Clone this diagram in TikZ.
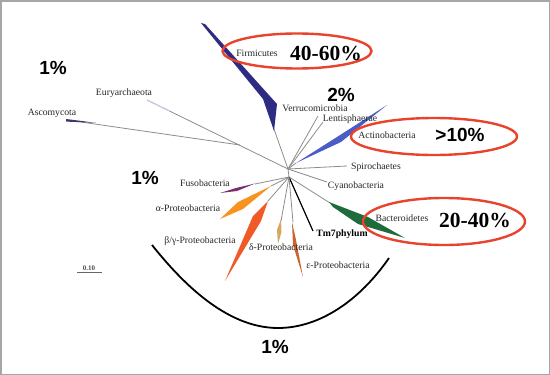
\documentclass[tikz,border=0pt]{standalone}
\usepackage{fontspec}
\setmainfont{Liberation Serif}
\newfontfamily\arialfont{Liberation Sans}
\begin{document}
\begin{tikzpicture}[x=1pt,y=-1pt,
  br/.style={draw=black!45,line width=0.8pt},
  lbl/.style={text=black!85,inner sep=0pt,font=\fontsize{9.7}{11}\selectfont},
  pct/.style={inner sep=0pt,font=\arialfont\bfseries\fontsize{19}{21}\selectfont},
  bigpct/.style={inner sep=0pt,font=\bfseries\fontsize{21.5}{24}\selectfont},
  ring/.style={line width=2.4pt},
  wedge/.style={draw=none}]
\useasboundingbox (0,0) rectangle (550,375);
\draw[black!35,line width=1.5pt] (0.75,0.75) rectangle (549.25,374.25);
\definecolor{firm}{HTML}{2E2C82}
\definecolor{actino}{HTML}{4B5CC6}
\definecolor{bact}{HTML}{1E6B3C}
\definecolor{betag}{HTML}{F05A28}
\definecolor{alpha}{HTML}{F7931E}
\definecolor{fuso}{HTML}{7B2D6E}
\definecolor{delta}{HTML}{D4A860}
\definecolor{eps}{HTML}{C9642E}
\definecolor{asco}{HTML}{3A3A6A}
\definecolor{ringred}{HTML}{E8432C}
% hubs
\coordinate (hub) at (288,169);
\coordinate (hubl) at (289,177);
\coordinate (junc) at (240,145);
\coordinate (eury) at (147,100);
\coordinate (asco) at (67,120);
\coordinate (firmb) at (274,129);
\coordinate (verr) at (318,116);
\coordinate (lent) at (323,122);
\coordinate (actb) at (296,163);
\coordinate (spir) at (347,166);
\coordinate (cyan) at (327,182);
\coordinate (bacb) at (330,203);
\coordinate (tm7) at (313,231);
\coordinate (epsb) at (293,222);
\coordinate (delb) at (281,221);
\coordinate (betb) at (268,201);
\coordinate (alpb) at (271,186);
\coordinate (fusb) at (255,184);
% branches
\draw[br] (hub) -- (hubl);
\draw[br] (hub) -- (eury);
\draw[br] (junc) -- (asco);
\draw[draw=black!25!blue!20,line width=0.9pt] (eury) -- (170,111);
\fill[asco] (66,119) -- (96,122.8) -- (66,121.6) -- cycle;
\draw[br] (hub) -- (firmb);
\fill[firm] (201,23) -- (205,24) -- (277,104) -- (274,131) -- (263,99) -- cycle;
\draw[br] (hub) -- (verr);
\draw[br] (hub) -- (lent);
\draw[br] (hub) -- (actb);
\fill[actino] (296,163) -- (337,137) -- (387,105) -- (341,142) -- cycle;
\draw[br] (hub) -- (spir);
\draw[br] (hub) -- (cyan);
\draw[br] (hubl) -- (bacb);
\fill[bact] (329,202) -- (368,217) -- (405,238) -- (358,224) -- (333,207) -- cycle;
\draw[black,line width=1.2pt] (hubl) -- (tm7);
\draw[br] (hubl) -- (epsb);
\fill[eps] (292,222) -- (296,240) -- (303,277) -- (293,245) -- cycle;
\draw[br] (hubl) -- (delb);
\fill[delta] (281,219) -- (281.5,232) -- (278,244) -- (277,230) -- cycle;
\draw[br] (hubl) -- (betb);
\fill[betag] (268,201) -- (261,221) -- (225,281) -- (253,216) -- cycle;
\draw[br] (hubl) -- (alpb);
\fill[alpha] (271,186) -- (238,202) -- (220,219) -- (243,209) -- cycle;
\draw[br] (hubl) -- (fusb);
\fill[fuso] (255,183.5) -- (236,188) -- (220,193) -- (237,191) -- cycle;
% arc
\coordinate (arcl) at (152,245);
\coordinate (arcb) at (278,328);
\coordinate (arcr) at (389,258);
\draw[black,line width=1.8pt] (arcl) .. controls (180,280) and (225,328) .. (arcb)
  .. controls (320,328) and (360,300) .. (arcr);
% rings
\draw[ring,draw=ringred] (297,51) ellipse [x radius=74.5,y radius=17.5];
\draw[ring,draw=ringred] (434,136.5) ellipse [x radius=83,y radius=18.5];
\draw[ring,draw=ringred] (444,221.5) ellipse [x radius=81,y radius=23.5];
% labels
\node[lbl] (lfirm) at (257,53) {Firmicutes};
\node[bigpct] (pfirm) at (326,53) {40-60\%};
\node[lbl] (lverr) at (315,108) {Verrucomicrobia};
\node[lbl] (llent) at (350,119) {Lentisphaerae};
\node[pct] (p2) at (341,95) {2\%};
\node[lbl] (lact) at (387,135) {Actinobacteria};
\node[pct] (pact) at (460,135) {>10\%};
\node[lbl] (lspir) at (376,167) {Spirochaetes};
\node[lbl] (lcyan) at (356,186) {Cyanobacteria};
\node[lbl] (lbac) at (402,218) {Bacteroidetes};
\node[bigpct] (pbac) at (475,220) {20-40\%};
\node[lbl,font=\bfseries\fontsize{9.7}{11}\selectfont,text=black] (ltm7) at (342,234) {Tm7phylum};
\node[lbl] (leps) at (338,265) {ε-Proteobacteria};
\node[lbl] (ldel) at (281,247) {δ-Proteobacteria};
\node[lbl] (lbet) at (200,241) {β/γ-Proteobacteria};
\node[lbl] (lalp) at (188,208) {α-Proteobacteria};
\node[lbl] (lfus) at (205,183) {Fusobacteria};
\node[pct] (p1a) at (145,178) {1\%};
\node[pct] (p1b) at (53,68) {1\%};
\node[lbl] (leury) at (124,93) {Euryarchaeota};
\node[lbl] (lasco) at (52,113) {Ascomycota};
\node[pct] (p1c) at (275,347) {1\%};
\node[inner sep=0pt,text=black!70,font=\bfseries\fontsize{7}{8}\selectfont] (scale) at (89,268) {0.10};
\draw[black!60,line width=0.6pt] (77,272.5) -- (102,272.5);
\end{tikzpicture}
\end{document}
